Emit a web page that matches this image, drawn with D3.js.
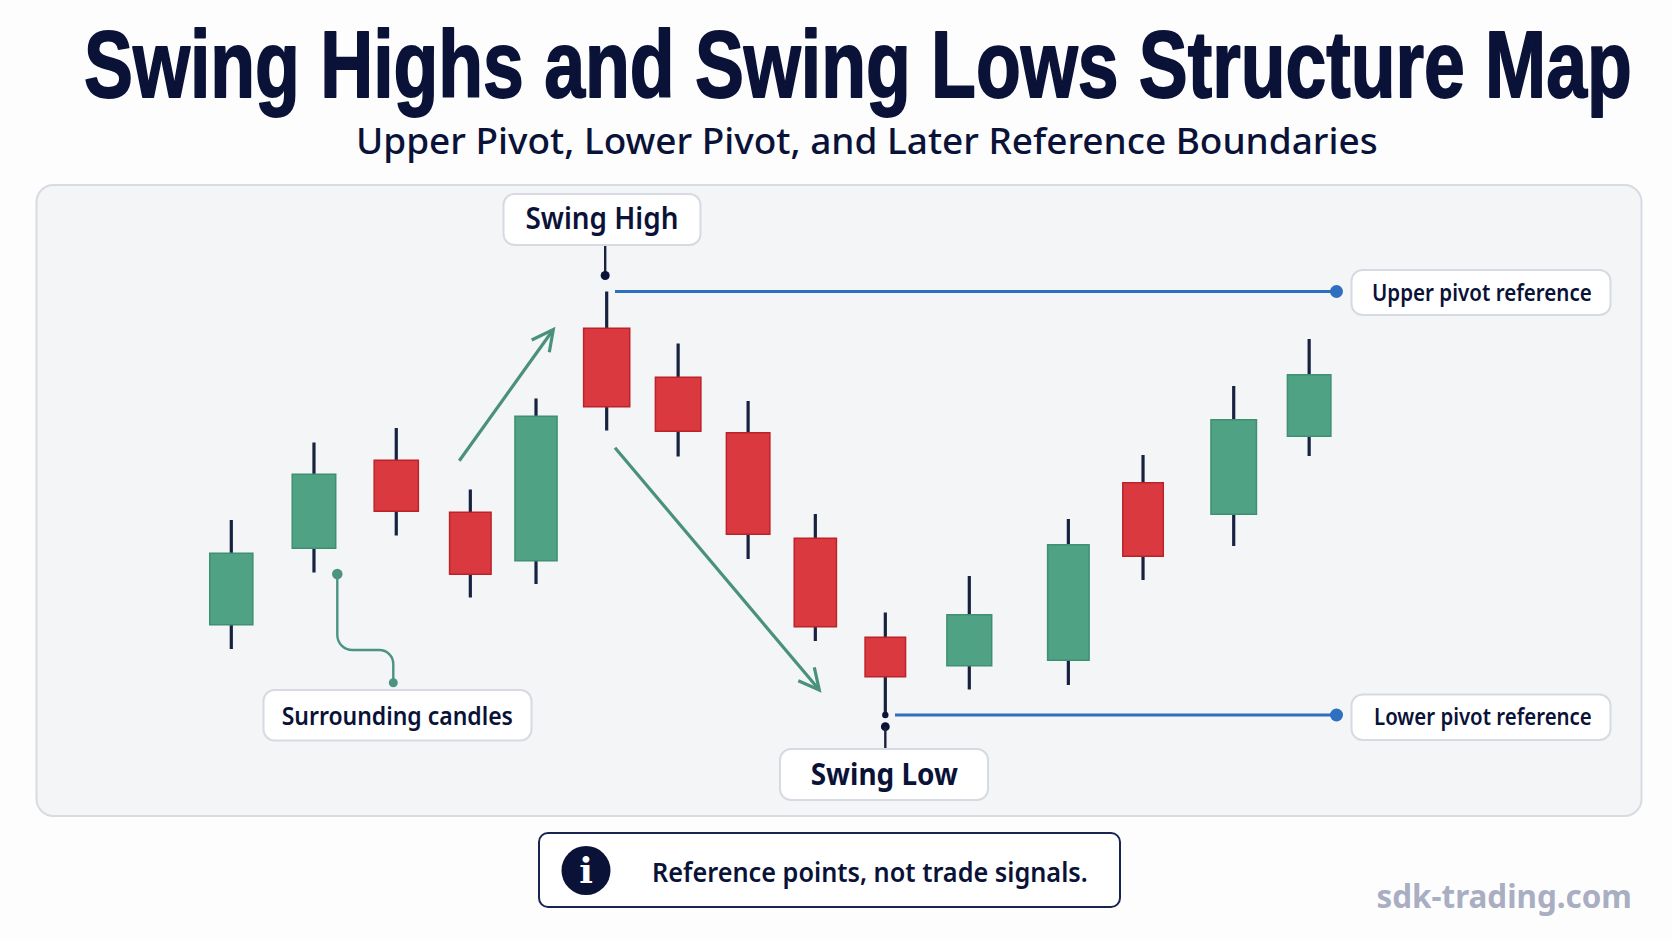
<!DOCTYPE html>
<html>
<head>
<meta charset="utf-8">
<title>Swing Highs and Swing Lows Structure Map</title>
<script src="https://cdn.jsdelivr.net/npm/d3@7/dist/d3.min.js"></script>
<style>
html, body { margin: 0; padding: 0; background: #fdfdfe; }
svg { display: block; }
</style>
</head>
<body>
<svg id="chart" width="1672" height="941"></svg>
<script>
// Candle series: session position on the time axis, and price levels
const sessions = [0, 1.075, 2.145, 3.108, 3.962, 4.881, 5.81, 6.72, 7.594, 8.504, 9.596, 10.884, 11.855, 13.034, 14.015];
const bodySpans = [0.58, 0.585, 0.594, 0.559, 0.567, 0.619, 0.611, 0.585, 0.568, 0.546, 0.602, 0.559, 0.546, 0.611, 0.585];
const highs = [48, 63.5, 66.4, 54.1, 72.3, 93.7, 83.3, 71.8, 49.2, 29.5, 36.8, 48.2, 61, 74.8, 84.2];
const bodyTops = [41.5, 57.3, 60.1, 49.7, 68.9, 86.5, 76.7, 65.6, 44.5, 24.7, 29.2, 43.2, 55.6, 68.2, 77.2];
const bodyBottoms = [26.9, 42.2, 49.6, 37, 39.7, 70.5, 65.6, 45, 26.5, 16.5, 18.7, 19.8, 40.6, 49, 64.6];
const lows = [22.2, 37.5, 44.9, 32.5, 35.2, 65.9, 60.7, 40.2, 23.8, 9, 14.1, 15, 36, 42.8, 60.8];
const directions = ["up", "up", "down", "down", "up", "down", "down", "down", "down", "down", "up", "up", "down", "up", "up"];

const swingHighIndex = 5;
const swingLowIndex = 9;

const titleText = "Swing Highs and Swing Lows Structure Map";
const subtitleText = "Upper Pivot, Lower Pivot, and Later Reference Boundaries";

const INK = "#0a1238";
const WICK = "#16223f";
const BLUE = "#2f6fc0";
const TEAL = "#4c9482";
const ARROW = "#4a917c";
const FILLS = { up: "#4fa283", down: "#da3a3f" };
const EDGES = { up: "#3f8f72", down: "#bb2229" };

const svg = d3.select("#chart");

const x = d3.scaleLinear().domain([0, 14]).range([231.3, 1308]);
const y = d3.scaleLinear().domain([0, 100]).range([760, 260]);
const spanPx = s => x(s) - x(0);

// Places a text run and squeezes it horizontally onto the given extent
function fitText(g, str, x0, x1, baseline, size, family, weight, fill) {
  const t = g.append("text")
    .attr("font-family", family).attr("font-size", size)
    .attr("font-weight", weight).attr("fill", fill)
    .text(str);
  const natural = t.node().getComputedTextLength();
  t.attr("transform", `translate(${x0},${baseline}) scale(${(x1 - x0) / natural},1)`);
  return t;
}

function labelBox(g, x0, y0, x1, y1) {
  g.append("rect")
    .attr("x", x0).attr("y", y0).attr("width", x1 - x0).attr("height", y1 - y0)
    .attr("rx", 11).attr("fill", "#ffffff")
    .attr("stroke", "#d8dae3").attr("stroke-width", 2);
}

// Page heading
fitText(svg, titleText, 84, 1632, 96.5, 94, "'Liberation Sans Narrow','Liberation Sans',sans-serif", 700, INK)
  .attr("stroke", INK).attr("stroke-width", 1.8).attr("stroke-linejoin", "round");
fitText(svg, subtitleText, 356, 1378, 153.5, 37, "'Noto Sans',sans-serif", 500, INK);

// Chart panel
svg.append("rect")
  .attr("x", 36.5).attr("y", 185).attr("width", 1605).attr("height", 631)
  .attr("rx", 17).attr("fill", "#f4f5f6")
  .attr("stroke", "#d9dbe3").attr("stroke-width", 2);

// Trend arrows
const arrows = svg.append("g").attr("fill", "none").attr("stroke", ARROW)
  .attr("stroke-width", 3.2).attr("stroke-linejoin", "miter");
const arrowLine = d3.line();
arrows.append("path").attr("d", arrowLine([[459.3, 460.7], [553, 330]]));
arrows.append("path").attr("d", arrowLine([[531.7, 340], [553.3, 329.5], [549.3, 352.3]]));
arrows.append("path").attr("d", arrowLine([[615, 447.7], [819, 689.5]]));
arrows.append("path").attr("d", arrowLine([[798.3, 680.7], [819.3, 690], [814.3, 667.3]]));

// Candles
const candles = svg.append("g").selectAll("g")
  .data(sessions.map((s, i) => ({
    s, span: bodySpans[i], high: highs[i], top: bodyTops[i],
    bottom: bodyBottoms[i], low: lows[i], dir: directions[i]
  })))
  .join("g");

candles.append("line")
  .attr("x1", d => x(d.s)).attr("x2", d => x(d.s))
  .attr("y1", d => y(d.high)).attr("y2", d => y(d.low))
  .attr("stroke", WICK).attr("stroke-width", 3.2);

candles.append("rect")
  .attr("x", d => x(d.s) - spanPx(d.span) / 2 + 0.75)
  .attr("y", d => y(d.top) + 0.75)
  .attr("width", d => spanPx(d.span) - 1.5)
  .attr("height", d => y(d.bottom) - y(d.top) - 1.5)
  .attr("fill", d => FILLS[d.dir])
  .attr("stroke", d => EDGES[d.dir]).attr("stroke-width", 1.5);

// Pivot reference lines, anchored on the swing candles
const upperY = y(highs[swingHighIndex]);
const lowerY = y(lows[swingLowIndex]);
const refs = svg.append("g");
[[615, upperY], [895, lowerY]].forEach(([start, level]) => {
  refs.append("line").attr("x1", start).attr("x2", 1336).attr("y1", level).attr("y2", level)
    .attr("stroke", BLUE).attr("stroke-width", 3.2);
  refs.append("circle").attr("cx", 1336.5).attr("cy", level).attr("r", 6.5).attr("fill", BLUE);
});

// Swing high marker
const swingHighX = x(sessions[swingHighIndex]);
const marks = svg.append("g");
marks.append("line").attr("x1", swingHighX - 1.5).attr("x2", swingHighX - 1.5).attr("y1", 245).attr("y2", 275)
  .attr("stroke", WICK).attr("stroke-width", 2.4);
marks.append("circle").attr("cx", swingHighX - 1.5).attr("cy", 275.5).attr("r", 4.5).attr("fill", INK);

// Swing low marker
const swingLowX = x(sessions[swingLowIndex]);
marks.append("circle").attr("cx", swingLowX).attr("cy", lowerY).attr("r", 3.2).attr("fill", INK);
marks.append("circle").attr("cx", swingLowX).attr("cy", 726.7).attr("r", 4.4).attr("fill", INK);
marks.append("line").attr("x1", swingLowX).attr("x2", swingLowX).attr("y1", 727).attr("y2", 749)
  .attr("stroke", WICK).attr("stroke-width", 2.4);

// Callout leader for the surrounding candles
const leaderPath = d3.path();
leaderPath.moveTo(337.3, 574);
leaderPath.lineTo(337.3, 635);
leaderPath.arcTo(337.3, 650, 352.3, 650, 15);
leaderPath.lineTo(379, 650);
leaderPath.arcTo(393.3, 650, 393.3, 664, 14);
leaderPath.lineTo(393.3, 682.7);

const leader = svg.append("g");
leader.append("path").attr("d", leaderPath.toString())
  .attr("fill", "none").attr("stroke", TEAL).attr("stroke-width", 2.4);
leader.append("circle").attr("cx", 337.3).attr("cy", 574).attr("r", 5.3).attr("fill", TEAL);
leader.append("circle").attr("cx", 393.3).attr("cy", 682.7).attr("r", 4.5).attr("fill", TEAL);

// Labels
const labels = svg.append("g");
const labelFont = "'Noto Sans',sans-serif";
labelBox(labels, 503.5, 194, 700.5, 245);
fitText(labels, "Swing High", 525.5, 678.5, 228.5, 30, labelFont, 600, INK);
labelBox(labels, 1351.5, 270, 1610.5, 315);
fitText(labels, "Upper pivot reference", 1372, 1592, 301, 24, labelFont, 600, INK);
labelBox(labels, 263.5, 690, 531.5, 740.5);
fitText(labels, "Surrounding candles", 281.7, 513, 725, 26, labelFont, 600, INK);
labelBox(labels, 780, 749, 988, 800);
fitText(labels, "Swing Low", 810.7, 958, 785, 30, labelFont, 700, INK);
labelBox(labels, 1351.5, 694.5, 1610.5, 740);
fitText(labels, "Lower pivot reference", 1374, 1592, 725, 24, labelFont, 600, INK);

// Footer note
const note = svg.append("g");
note.append("rect").attr("x", 539).attr("y", 833).attr("width", 581).attr("height", 74)
  .attr("rx", 9).attr("fill", "#ffffff").attr("stroke", "#1a2450").attr("stroke-width", 2);
note.append("ellipse").attr("cx", 586).attr("cy", 870.5).attr("rx", 24.5).attr("ry", 24.5).attr("fill", INK);
note.append("text").attr("x", 586).attr("y", 883).attr("text-anchor", "middle")
  .attr("font-family", "'DejaVu Serif',serif").attr("font-weight", 700).attr("font-size", 36)
  .attr("fill", "#ffffff").text("i");
fitText(note, "Reference points, not trade signals.", 652, 1088, 881.5, 27, labelFont, 600, INK);

// Site mark
fitText(svg, "sdk-trading.com", 1376.5, 1632, 907.5, 33, "'Noto Sans',sans-serif", 700, "#a9aec3");
</script>
</body>
</html>
